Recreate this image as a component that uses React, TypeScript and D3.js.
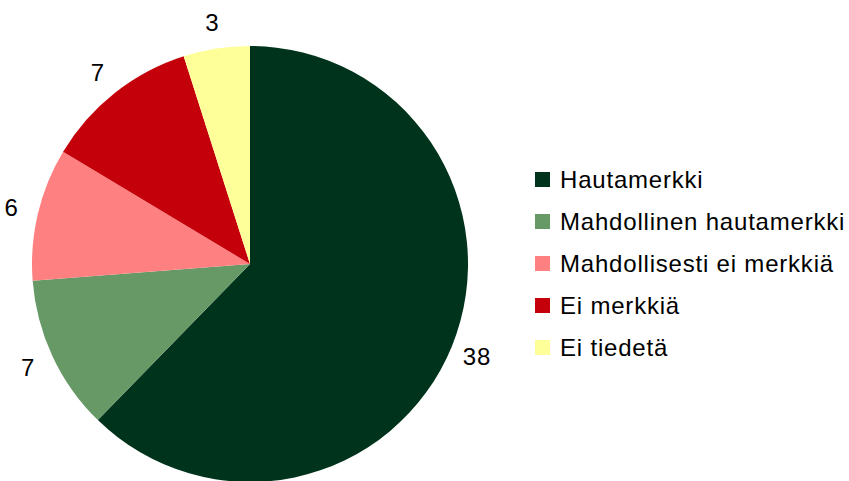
import { useEffect, useRef } from 'react';
import * as d3 from 'd3';

const categories = ['Hautamerkki', 'Mahdollinen hautamerkki', 'Mahdollisesti ei merkkiä', 'Ei merkkiä', 'Ei tiedetä'];
const values = [38, 7, 6, 7, 3];
const colors = ['#00331B', '#669966', '#FF8080', '#C4000B', '#FFFF99'];

export default function App() {
  const svgRef = useRef<SVGSVGElement | null>(null);

  useEffect(() => {
    if (!svgRef.current) return;
    const width = 849;
    const height = 481;
    const cx = 250;
    const cy = 264;
    const radius = 218;
    const font = 'Liberation Sans, Arial, sans-serif';

    const svg = d3.select(svgRef.current);
    svg.selectAll('*').remove();
    svg.attr('width', width).attr('height', height);

    const data = categories.map((c, i) => ({ name: c, value: values[i], color: colors[i] }));

    const pie = d3.pie<any>().sort(null).value(d => d.value);
    const arc = d3.arc<any>().innerRadius(0).outerRadius(radius);
    const labelArc = d3.arc<any>().innerRadius(245).outerRadius(245);

    const g = svg.append('g').attr('transform', `translate(${cx},${cy})`);
    const arcs = pie(data);

    // slices
    g.selectAll('path')
      .data(arcs)
      .enter()
      .append('path')
      .attr('d', arc)
      .attr('fill', d => d.data.color);

    // value labels
    g.selectAll('text')
      .data(arcs)
      .enter()
      .append('text')
      .attr('transform', d => `translate(${labelArc.centroid(d)})`)
      .attr('text-anchor', 'middle')
      .attr('dy', '0.36em')
      .style('font-family', font)
      .style('font-size', '24px')
      .style('letter-spacing', '0.8px')
      .attr('fill', '#000')
      .text(d => d.data.value);

    // legend
    const legend = svg.append('g').attr('transform', 'translate(535,172)');
    const rows = legend.selectAll('g')
      .data(data)
      .enter()
      .append('g')
      .attr('transform', (d, i) => `translate(0,${i * 42})`);

    rows.append('rect')
      .attr('width', 15)
      .attr('height', 15)
      .attr('fill', d => d.color);

    rows.append('text')
      .attr('x', 25)
      .attr('y', 7.5)
      .attr('dy', '0.36em')
      .style('font-family', font)
      .style('font-size', '24px')
      .style('letter-spacing', '0.8px')
      .attr('fill', '#000')
      .text(d => d.name);
  }, []);

  return <svg ref={svgRef} style={{ position: 'absolute', left: 0, top: 0, display: 'block' }} />;
}
